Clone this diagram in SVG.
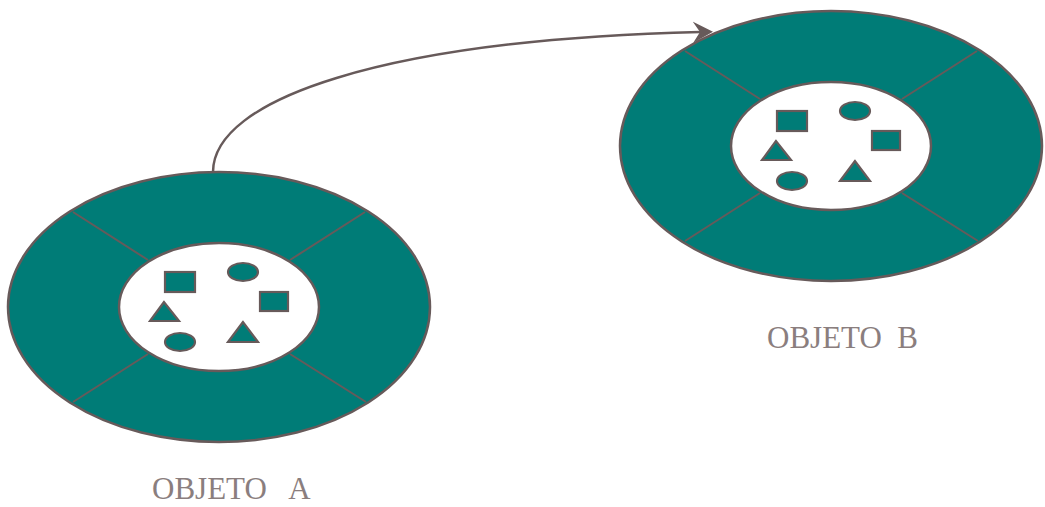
<svg xmlns="http://www.w3.org/2000/svg" width="1045" height="507" viewBox="0 0 1045 507">
  <style>
    .ring { fill: #007c77; stroke: #675a5a; stroke-width: 2.5; }
    .core { fill: #ffffff; stroke: #675a5a; stroke-width: 2.5; }
    .spoke { stroke: #675a5a; stroke-width: 2; fill: none; }
    .item { fill: #007c77; stroke: #675a5a; stroke-width: 2.2; }
    .link { fill: none; stroke: #675a5a; stroke-width: 2.5; }
    .label { font-family: "Liberation Serif", "Times New Roman", serif; font-size: 31px; fill: #8a7e7e; white-space: pre; }
  </style>
  <defs>
    <marker id="arrow" markerUnits="userSpaceOnUse" viewBox="0 0 21 22" markerWidth="21" markerHeight="22" refX="7" refY="11" orient="auto">
      <path d="M20,11 L0,0.5 L7,11 L0,21.5 Z" fill="#675a5a"/>
    </marker>
  </defs>

  <!-- connector: message sent from object A to object B -->
  <g id="connectors">
    <path class="link" d="M213,172 C213,100 380,40 700,32" marker-end="url(#arrow)"/>
  </g>

  <!-- object A -->
  <g id="objeto-a" transform="translate(219,307)">
    <ellipse class="ring" cx="0" cy="0" rx="211" ry="135"/>
    <line class="spoke" x1="-146" y1="-95" x2="-71" y2="-47"/>
    <line class="spoke" x1="146" y1="-95" x2="71" y2="-47"/>
    <line class="spoke" x1="-146" y1="95" x2="-71" y2="47"/>
    <line class="spoke" x1="147" y1="95" x2="71" y2="47"/>
    <ellipse class="core" cx="0" cy="0" rx="100" ry="64"/>
    <rect class="item" x="-54" y="-35" width="30" height="20"/>
    <ellipse class="item" cx="24" cy="-35" rx="15" ry="9"/>
    <rect class="item" x="41" y="-15" width="28" height="19"/>
    <polygon class="item" points="-55,-5 -69,14 -40,14"/>
    <polygon class="item" points="24,15 9,35 39,35"/>
    <ellipse class="item" cx="-39" cy="35" rx="15" ry="9"/>
  </g>

  <!-- object B -->
  <g id="objeto-b" transform="translate(831,146)">
    <ellipse class="ring" cx="0" cy="0" rx="211" ry="135"/>
    <line class="spoke" x1="-146" y1="-95" x2="-71" y2="-47"/>
    <line class="spoke" x1="146" y1="-95" x2="71" y2="-47"/>
    <line class="spoke" x1="-146" y1="95" x2="-71" y2="47"/>
    <line class="spoke" x1="147" y1="95" x2="71" y2="47"/>
    <ellipse class="core" cx="0" cy="0" rx="100" ry="64"/>
    <rect class="item" x="-54" y="-35" width="30" height="20"/>
    <ellipse class="item" cx="24" cy="-35" rx="15" ry="9"/>
    <rect class="item" x="41" y="-15" width="28" height="19"/>
    <polygon class="item" points="-55,-5 -69,14 -40,14"/>
    <polygon class="item" points="24,15 9,35 39,35"/>
    <ellipse class="item" cx="-39" cy="35" rx="15" ry="9"/>
  </g>

  <g id="labels">
    <text class="label" x="152" y="499">OBJETO   A</text>
    <text class="label" x="767" y="348">OBJETO  B</text>
  </g>
</svg>
